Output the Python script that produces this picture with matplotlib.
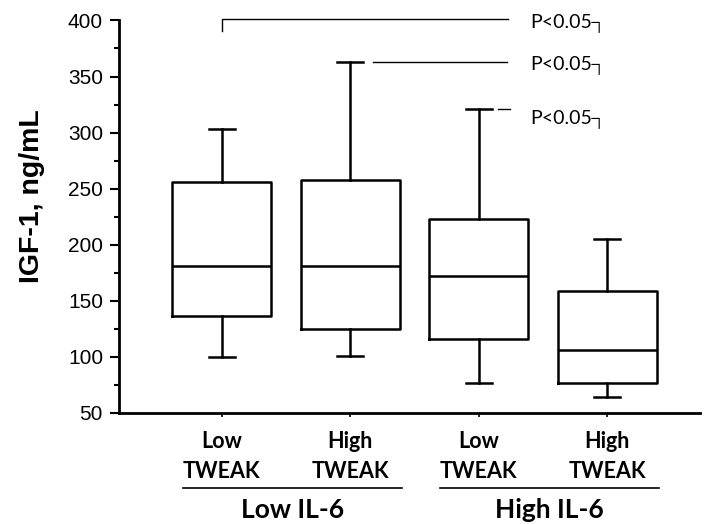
import numpy as np
import matplotlib.pyplot as plt
from matplotlib.ticker import MultipleLocator

# Box plot summary values (IGF-1, ng/mL)
tweak_labels = ["Low\nTWEAK", "High\nTWEAK", "Low\nTWEAK", "High\nTWEAK"]
il6_labels = ["Low IL-6", "High IL-6"]
whisker_low = [100, 101, 77, 64]
q1 = [136, 125, 116, 77]
medians = [181, 181, 172, 106]
q3 = [256, 258, 223, 159]
whisker_high = [303, 363, 321, 205]
p_text = "P<0.05\u2510"

label_font = ["Lato", "DejaVu Sans"]
num_font = ["Liberation Sans", "DejaVu Sans"]


def build_stats():
    stats = []
    for i in range(len(medians)):
        stats.append({
            "whislo": whisker_low[i], "q1": q1[i], "med": medians[i],
            "q3": q3[i], "whishi": whisker_high[i], "fliers": [],
        })
    return stats


def main():
    fig = plt.figure(figsize=(7.04, 5.24), dpi=100)
    ax = fig.add_axes([0.169, 0.212, 0.825, 0.749])

    positions = np.arange(1, len(medians) + 1)
    lw = 1.8
    ax.bxp(build_stats(), positions=positions, widths=0.77, showfliers=False,
           boxprops=dict(color="black", linewidth=lw),
           medianprops=dict(color="black", linewidth=lw),
           whiskerprops=dict(color="black", linewidth=lw),
           capprops=dict(color="black", linewidth=lw),
           capwidths=0.2)

    ax.set_xlim(0.2, 4.72)
    ax.set_ylim(50, 400)
    ax.yaxis.set_major_locator(MultipleLocator(50))
    ax.yaxis.set_minor_locator(MultipleLocator(25))
    for s in ["top", "right"]:
        ax.spines[s].set_visible(False)
    for s in ["left", "bottom"]:
        ax.spines[s].set_linewidth(2.0)
    ax.tick_params(axis="y", which="major", length=6.5, width=1.5, labelsize=15, pad=5)
    ax.tick_params(axis="y", which="minor", length=3.5, width=1.5)
    ax.tick_params(axis="x", length=3, width=1.2, pad=10)
    for t in ax.get_yticklabels():
        t.set_family(num_font)

    ax.set_xticks(positions)
    ax.set_xticklabels(tweak_labels, family=label_font, fontweight="bold",
                       fontsize=15.5, linespacing=1.55)
    ax.set_ylabel("IGF-1, ng/mL", family=num_font, fontweight="bold",
                  fontsize=20.5)
    ax.yaxis.set_label_coords(-0.127, 0.553)

    # group separators and IL-6 labels
    xt = ax.get_xaxis_transform()
    group_centers = [1.55, 3.55]
    for k, c in enumerate(group_centers):
        ax.plot([c - 0.85, c + 0.85], [-0.191, -0.191], color="black",
                linewidth=1.2, transform=xt, clip_on=False)
        ax.text(c, -0.268, il6_labels[k], transform=xt, ha="center", va="baseline",
                family=label_font, fontweight="bold", fontsize=19)

    # significance brackets
    text_x = 3.40
    ax.plot([1, 1, 3.23], [391, 401, 401], color="black", linewidth=1.0, clip_on=False)
    ax.plot([2.18, 3.22], [363, 363], color="black", linewidth=1.0, clip_on=False)
    ax.plot([3.15, 3.24], [321, 321], color="black", linewidth=1.0, clip_on=False)
    for y in [394, 357, 308]:
        ax.text(text_x, y, p_text, ha="left", va="baseline", family=label_font,
                fontsize=14, clip_on=False)

    fig.savefig("out.png", dpi=100)


if __name__ == "__main__":
    main()
